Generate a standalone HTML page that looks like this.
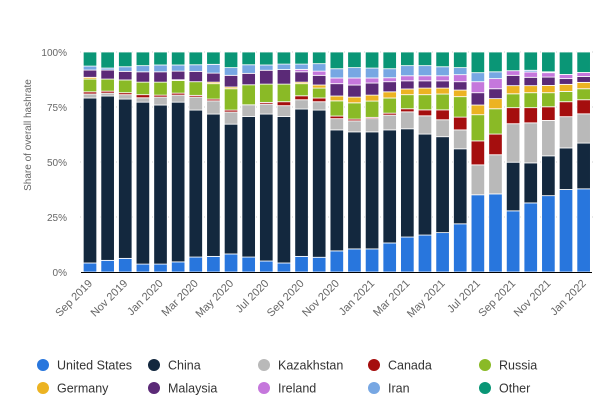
<!DOCTYPE html>
<html><head><meta charset="utf-8"><style>
body{margin:0;background:#fff;font-family:"Liberation Sans",sans-serif}
svg{display:block}
</style></head><body>
<svg id="chart" width="602" height="413">
<g id="grid"></g><g id="bars"></g><g id="axes"></g><g id="legend"></g>
</svg>
<script>
const categories=["Sep 2019","Oct 2019","Nov 2019","Dec 2019","Jan 2020","Feb 2020","Mar 2020","Apr 2020","May 2020","Jun 2020","Jul 2020","Aug 2020","Sep 2020","Oct 2020","Nov 2020","Dec 2020","Jan 2021","Feb 2021","Mar 2021","Apr 2021","May 2021","Jun 2021","Jul 2021","Aug 2021","Sep 2021","Oct 2021","Nov 2021","Dec 2021","Jan 2022"];
const seriesNames=["United States","China","Kazakhstan","Canada","Russia","Germany","Malaysia","Ireland","Iran","Other"];
const usValues=[4.1,5.3,6.2,3.6,3.6,4.6,6.8,7.1,8.2,6.8,5.0,4.1,7.1,6.7,9.6,10.5,10.5,13.2,15.9,16.8,17.9,21.9,35.1,35.5,27.8,31.4,34.7,37.5,37.8];
const chinaValues=[75.0,74.7,72.4,73.6,72.3,72.6,66.8,64.7,59.0,63.9,66.8,66.6,67.0,66.9,55.0,53.2,53.2,51.4,49.2,45.9,43.6,34.1,0,0,22.1,18.2,18.1,18.9,20.8];
const kazakhstanValues=[1.8,1.3,2.0,2.0,3.6,3.2,5.9,6.0,5.5,5.3,4.5,4.9,4.2,3.8,5.1,5.0,6.0,6.7,7.7,8.3,7.7,8.6,13.6,17.8,17.5,18.2,16.1,14.2,13.3];
const canadaValues=[1.0,0.9,0.9,1.4,0.9,0.9,0.8,0.8,0.9,0,0.8,1.8,1.8,1.7,1.2,0.8,0.6,0.9,1.4,2.7,4.5,5.8,10.9,9.4,7.3,6.9,6.2,6.8,6.4];
const russiaValues=[5.8,5.5,5.8,5.7,5.9,5.7,6.2,7.0,9.7,9.1,8.3,8.0,5.5,4.5,6.9,7.4,7.4,6.9,6.4,6.9,7.2,9.3,11.9,11.5,6.3,6.8,6.4,4.7,5.0];
const germanyValues=[0.8,0,0,0,0,0.4,0,0.7,0.8,0,0,0,0.7,1.4,2.2,2.6,2.7,2.8,2.6,3.0,2.7,3.0,4.4,4.6,3.7,3.2,3.3,3.2,2.9];
const malaysiaValues=[3.3,4.1,3.9,4.7,4.7,3.9,4.7,4.1,5.3,5.2,6.3,6.6,4.7,4.4,5.6,5.5,5.5,4.6,3.7,3.3,3.3,3.8,5.6,4.5,4.7,3.8,3.8,2.6,2.7];
const irelandValues=[0,0,0,0,0,0,0,0,0,0,0,0,1.1,1.9,2.6,3.2,2.3,1.8,2.3,2.3,2.3,3.2,5.0,4.6,2.1,2.4,2.0,1.9,1.8];
const iranValues=[1.8,0.9,2.1,2.8,3.1,2.8,3.0,4.0,3.5,3.9,2.4,2.5,2.4,3.4,4.2,4.7,4.5,4.1,4.6,4.6,4.1,3.2,4.1,3.1,0,0.8,0.4,0,0];
const otherValues=[6.4,7.3,6.7,6.2,5.9,5.9,5.8,5.6,7.1,5.8,5.9,5.5,5.5,5.3,7.6,7.1,7.3,7.6,6.2,6.2,6.7,7.1,9.4,9.0,8.5,8.3,9.0,10.2,9.3];
const yTicks=[0,25,50,75,100];

const seriesValues=[usValues,chinaValues,kazakhstanValues,canadaValues,russiaValues,germanyValues,malaysiaValues,irelandValues,iranValues,otherValues];
const colors=["#2876dd","#13283e","#b9b9b9","#a50e0e","#8aba26","#ecb322","#5b2a77","#c577dc","#77a7e3","#0a9676"];
const NS="http://www.w3.org/2000/svg";
const x0=90,pitch=17.63,bw=13.5,yBase=272,yTop=52;
const xScale=i=>x0+i*pitch;
const yScale=v=>yBase-(v/100)*(yBase-yTop);
function mk(tag,attrs,parent,text){const e=document.createElementNS(NS,tag);for(const k in attrs)e.setAttribute(k,attrs[k]);if(text!==undefined)e.textContent=text;parent.appendChild(e);return e;}
const grid=document.getElementById('grid'),bars=document.getElementById('bars'),axes=document.getElementById('axes'),legend=document.getElementById('legend');
yTicks.forEach(t=>{
  const y=yScale(t);
  if(t>0){const g=mk('line',{x1:80,x2:594,y1:y,y2:y,stroke:'#d0d0d0','stroke-dasharray':'1,3'},grid);
  
  }
  const l=mk('text',{x:67,y:y+4,'text-anchor':'end','font-size':'10',fill:'#666'},axes,t+'%');
  
  
});
categories.forEach((c,i)=>{
  let cum=0;
  seriesValues.forEach((vals,s)=>{
    const v=vals[i];if(v<=0)return;
    const y1=yScale(cum+v),y2=yScale(cum);
    const r=mk('rect',{x:xScale(i)-bw/2,y:y1,width:bw,height:Math.max(0,y2-y1),fill:colors[s],stroke:'#fff','stroke-width':'0.8'},bars);
    
    
    cum+=v;
  });
  if(i%2===0){
    const cx=xScale(i)+3,cy=284;
    const t=mk('text',{x:cx,y:cy,'text-anchor':'end','font-size':'11',fill:'#666',transform:`rotate(-45 ${cx} ${cy})`},axes,c);
    
    
  }
});
const base=mk('line',{x1:81,x2:592,y1:yBase+0.5,y2:yBase+0.5,stroke:'#000','stroke-width':'1'},axes);


const yt=mk('text',{x:31,y:135,'text-anchor':'middle','font-size':'10',fill:'#666',transform:'rotate(-90 31 135)'},axes,'Share of overall hashrate');


const legX=[43,154,264,374,485],legY=[365,388];
seriesNames.forEach((n,s)=>{
  const col=s%5,row=Math.floor(s/5);
  const g=mk('g',{},legend);
  
  
  mk('circle',{cx:legX[col],cy:legY[row],r:6,fill:colors[s]},g);
  mk('text',{x:legX[col]+14,y:legY[row]+4.5,'font-size':'12.5',fill:'#333'},g,n);
});
</script>
</body></html>
